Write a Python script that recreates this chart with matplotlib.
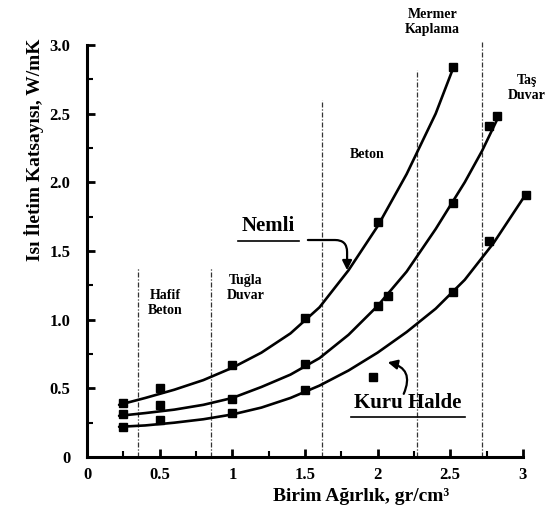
import matplotlib
matplotlib.use("Agg")
import matplotlib.pyplot as plt
from matplotlib.ticker import MultipleLocator, FixedLocator, FixedFormatter

plt.rcParams['font.family'] = ['Liberation Serif', 'DejaVu Serif']
plt.rcParams['font.weight'] = 'bold'

# measured points (squares)
nemli_x = [0.25, 0.5, 1.0, 1.5, 2.0, 2.52]
nemli_y = [0.39, 0.50, 0.67, 1.01, 1.71, 2.84]
orta_x = [0.25, 0.5, 1.0, 1.5, 2.0, 2.07, 2.52, 2.77, 2.82]
orta_y = [0.31, 0.38, 0.42, 0.68, 1.10, 1.17, 1.85, 2.41, 2.48]
kuru_x = [0.25, 0.5, 1.0, 1.5, 1.97, 2.52, 2.77, 3.02]
kuru_y = [0.22, 0.27, 0.32, 0.49, 0.58, 1.20, 1.57, 1.91]

# fitted curves
cn_x = [0.22, 0.4, 0.6, 0.8, 1.0, 1.2, 1.4, 1.6, 1.8, 2.0, 2.2, 2.4, 2.52]
cn_y = [0.38, 0.43, 0.49, 0.56, 0.65, 0.76, 0.90, 1.09, 1.36, 1.68, 2.06, 2.50, 2.83]
cm_x = [0.22, 0.4, 0.6, 0.8, 1.0, 1.2, 1.4, 1.6, 1.8, 2.0, 2.2, 2.4, 2.6, 2.72, 2.82]
cm_y = [0.30, 0.32, 0.345, 0.38, 0.43, 0.51, 0.60, 0.72, 0.89, 1.10, 1.35, 1.66, 2.00, 2.23, 2.45]
ck_x = [0.22, 0.4, 0.6, 0.8, 1.0, 1.2, 1.4, 1.6, 1.8, 2.0, 2.2, 2.4, 2.6, 2.8, 3.0]
ck_y = [0.22, 0.23, 0.25, 0.275, 0.31, 0.36, 0.43, 0.52, 0.63, 0.76, 0.91, 1.08, 1.29, 1.56, 1.88]

# region boundaries
sinir_x = [0.35, 0.85, 1.62, 2.27, 2.72]
sinir_ust = [1.38, 1.38, 2.60, 2.82, 3.03]

xticks = [0, 0.5, 1, 1.5, 2, 2.5, 3]
xtick_labels = ['0', '0.5', '1', '1.5', '2', '2.5', '3']
yticks = [0, 0.5, 1.0, 1.5, 2.0, 2.5, 3.0]
ytick_labels = ['0', '0.5', '1.0', '1.5', '2.0', '2.5', '3.0']

fig = plt.figure(figsize=(5.55, 5.17), dpi=100)
ax = fig.add_axes([0.157, 0.116, 0.785, 0.797])
ax.set_xlim(0, 3.0)
ax.set_ylim(0, 3.0)

for xv, top in zip(sinir_x, sinir_ust):
    ax.plot([xv, xv], [0, top], color='#333333', lw=0.9, ls=(0, (4, 1.5, 1, 1.5)), clip_on=False, zorder=1)

for cx, cy in [(cn_x, cn_y), (cm_x, cm_y), (ck_x, ck_y)]:
    ax.plot(cx, cy, color='black', lw=1.9, solid_capstyle='round', solid_joinstyle='round', zorder=3, clip_on=False)
for px, py in [(nemli_x, nemli_y), (orta_x, orta_y), (kuru_x, kuru_y)]:
    ax.plot(px, py, ls='none', marker='s', ms=5.5, color='black', zorder=4, clip_on=False)

for s in ['top', 'right']:
    ax.spines[s].set_visible(False)
for s in ['left', 'bottom']:
    ax.spines[s].set_linewidth(2.2)

ax.xaxis.set_major_locator(FixedLocator(xticks))
ax.xaxis.set_major_formatter(FixedFormatter(xtick_labels))
ax.yaxis.set_major_locator(FixedLocator(yticks))
ax.yaxis.set_major_formatter(FixedFormatter(ytick_labels))
ax.xaxis.set_minor_locator(MultipleLocator(0.25))
ax.yaxis.set_minor_locator(MultipleLocator(0.25))
ax.tick_params(which='major', direction='in', length=6, width=2, labelsize=12)
ax.tick_params(axis='x', which='major', pad=7)
ax.tick_params(axis='y', which='major', pad=12)
ax.tick_params(which='minor', direction='in', length=4, width=1.5)
for lab in ax.get_xticklabels() + ax.get_yticklabels():
    lab.set_fontweight('bold')

ax.set_ylabel('Isı İletim Katsayısı, W/mK', fontsize=14, fontweight='bold')
ax.yaxis.set_label_coords(-0.10, 0.745)
ax.set_xlabel('Birim Ağırlık, gr/cm³', fontsize=14, fontweight='bold')
ax.xaxis.set_label_coords(0.63, -0.075)

tk = dict(fontsize=10, fontweight='bold', ha='center', va='center', linespacing=1.2)
ax.text(0.54, 1.12, 'Hafif\nBeton', **tk)
ax.text(1.09, 1.23, 'Tuğla\nDuvar', **tk)
ax.text(1.93, 2.20, 'Beton', **tk)
ax.text(2.38, 3.17, 'Mermer\nKaplama', clip_on=False, **tk)
ax.text(3.03, 2.69, 'Taş\nDuvar', clip_on=False, **tk)

ax.text(1.25, 1.68, 'Nemli', fontsize=15, fontweight='bold', ha='center', va='center')
ax.plot([1.04, 1.46], [1.575, 1.575], color='black', lw=1.2)
ax.annotate('', xy=(1.79, 1.36), xytext=(1.52, 1.58),
            arrowprops=dict(arrowstyle='-|>', color='black', lw=1.6, mutation_scale=14,
                            connectionstyle='angle,angleA=0,angleB=90,rad=12', shrinkA=0, shrinkB=0))

ax.text(2.21, 0.39, 'Kuru Halde', fontsize=15, fontweight='bold', ha='center', va='center')
ax.plot([1.82, 2.60], [0.295, 0.295], color='black', lw=1.2)
ax.annotate('', xy=(2.07, 0.69), xytext=(2.18, 0.46),
            arrowprops=dict(arrowstyle='-|>', color='black', lw=1.6, mutation_scale=14,
                            connectionstyle='arc3,rad=0.6', shrinkA=0, shrinkB=0))

fig.savefig('out.png', dpi=100)
